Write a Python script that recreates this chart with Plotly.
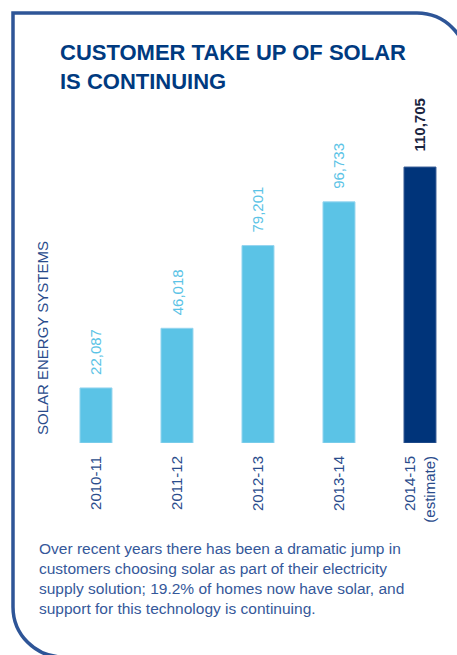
import plotly.graph_objects as go

# ---- data ----
categories = ["2010-11", "2011-12", "2012-13", "2013-14", "2014-15<br>(estimate)"]
values = [22087, 46018, 79201, 96733, 110705]
value_labels = ["22,087", "46,018", "79,201", "96,733", "110,705"]
title_lines = ["CUSTOMER TAKE UP OF SOLAR", "IS CONTINUING"]
y_title = "SOLAR ENERGY SYSTEMS"
footer_lines = [
    "Over recent years there has been a dramatic jump in",
    "customers choosing solar as part of their electricity",
    "supply solution; 19.2% of homes now have solar, and",
    "support for this technology is continuing.",
]

# ---- styling ----
W, H = 457, 655
ML, MR, MT, MB = 55, 0, 100, 212
PW, PH = W - ML - MR, H - MT - MB
LIGHT = "#5BC3E6"
DARK = "#00347A"
NAVY_TXT = "#2A4C8C"
BORDER = "#2E5597"
FONT = "Liberation Sans, Arial, sans-serif"

bar_colors = [LIGHT] * 4 + [DARK]
bar_lines = ["#95D5EF"] * 4 + ["#3A5E96"]
lab_colors = [LIGHT] * 4 + ["#1B2540"]
lab_bold = [False] * 4 + [True]
lab_shift = [11, 11, 11, 11, 14]


def px2x(px):
    return (px - ML) / PW


def py2y(py):
    return (H - MB - py) / PH


fig = go.Figure()
fig.add_trace(go.Bar(
    x=categories, y=values,
    marker=dict(color=bar_colors, line=dict(color=bar_lines, width=1)),
    hoverinfo="skip",
))

annotations = []
for c, v, t, col, b, s in zip(categories, values, value_labels, lab_colors, lab_bold, lab_shift):
    annotations.append(dict(
        x=c, y=v, xref="x", yref="y", text=f"<b>{t}</b>" if b else t,
        showarrow=False, textangle=-90, yanchor="bottom", xanchor="center",
        yshift=s, font=dict(family=FONT, size=15, color=col),
    ))

# title
annotations.append(dict(
    x=px2x(58), y=py2y(38), xref="paper", yref="paper",
    text="<b>" + "<br>".join(title_lines) + "</b>", align="left",
    xanchor="left", yanchor="top", showarrow=False,
    font=dict(family=FONT, size=22, color="#003A80"),
))
# y title
annotations.append(dict(
    x=px2x(42), y=py2y(437), xref="paper", yref="paper",
    text=y_title, textangle=-90, xanchor="center", yanchor="bottom",
    showarrow=False, font=dict(family=FONT, size=15, color=NAVY_TXT),
))
# footer
annotations.append(dict(
    x=px2x(37), y=py2y(538), xref="paper", yref="paper",
    text="<br>".join(footer_lines), align="left",
    xanchor="left", yanchor="top", showarrow=False,
    font=dict(family=FONT, size=15.5, color="#35589A"),
))

# border path (rounded top-right and bottom-left corners)
k = 0.5523
r = 50
L, T, R, B = 13, 13, 467, 657
pts = []
def P(x, y):
    return f"{px2x(x):.5f},{py2y(y):.5f}"
path = (
    f"M {P(L, T)} L {P(R - r, T)} "
    f"C {P(R - r + k*r, T)} {P(R, T + r - k*r)} {P(R, T + r)} "
    f"L {P(R, B)} L {P(L + r, B)} "
    f"C {P(L + r - k*r, B)} {P(L, B - r + k*r)} {P(L, B - r)} Z"
)

fig.update_layout(
    width=W, height=H,
    margin=dict(l=ML, r=MR, t=MT, b=MB),
    paper_bgcolor="white", plot_bgcolor="white",
    bargap=0.605, showlegend=False,
    xaxis=dict(
        range=[-0.506, 4.457], type="category", tickangle=-90,
        showgrid=False, zeroline=False, showline=False, ticks="",
        ticklabelstandoff=9,
        tickfont=dict(family=FONT, size=15, color=NAVY_TXT),
    ),
    yaxis=dict(range=[0, 137600], visible=False),
    annotations=annotations,
    shapes=[dict(type="path", path=path, xref="paper", yref="paper",
                 line=dict(color=BORDER, width=3.5), layer="above")],
)

fig.write_html("out.html")
